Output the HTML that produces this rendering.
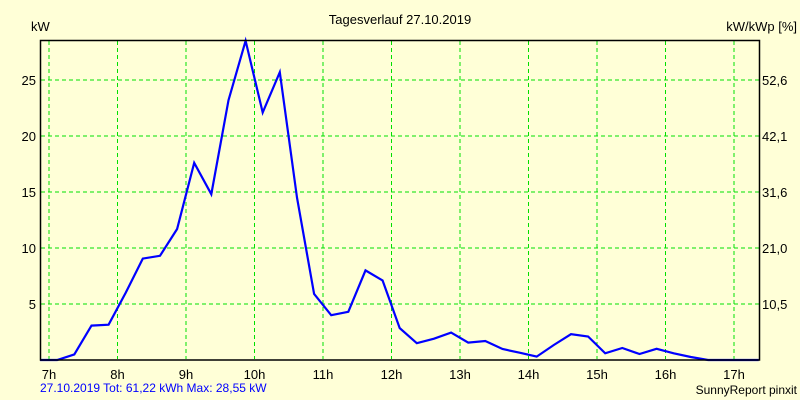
<!DOCTYPE html>
<html><head><meta charset="utf-8"><style>
html,body{margin:0;padding:0;background:#FFFFD7;}
svg{display:block;font-family:"Liberation Sans",sans-serif;}
</style></head><body>
<svg id="chart" width="800" height="400" viewBox="0 0 800 400">
<rect x="0" y="0" width="800" height="400" fill="#FFFFD7"/>
<text x="400" y="24" font-size="13" text-anchor="middle" fill="#000">Tagesverlauf 27.10.2019</text>
<text x="31" y="31" font-size="13" fill="#000">kW</text>
<text x="797" y="31" font-size="13" text-anchor="end" fill="#000">kW/kWp [%]</text>
<g id="grid"></g>
<g id="series"></g>
<rect x="40.5" y="40.5" width="719" height="319.5" fill="none" stroke="#000" stroke-width="1.5"/>
<g id="labels"></g>
<text x="40" y="392" font-size="12" fill="#0000FF">27.10.2019 Tot: 61,22 kWh Max: 28,55 kW</text>
<text x="797" y="394" font-size="12" text-anchor="end" fill="#000">SunnyReport pinxit</text>
</svg>
<script>
const hourTicks = [7,8,9,10,11,12,13,14,15,16,17];
const kwTicks = [5,10,15,20,25];
const pctTicks = ["10,5","21,0","31,6","42,1","52,6"];
const times = [6.87,7.12,7.37,7.62,7.87,8.12,8.37,8.62,8.87,9.12,9.37,9.62,9.87,10.12,10.37,10.62,10.87,11.12,11.37,11.62,11.87,12.12,12.37,12.62,12.87,13.12,13.37,13.62,13.87,14.12,14.37,14.62,14.87,15.12,15.37,15.62,15.87,16.12,16.37,16.62,16.87,17.12,17.36];
const power = [0,0,0.5,3.07,3.15,6.0,9.05,9.3,11.7,17.6,14.8,23.2,28.5,22.1,25.7,14.5,5.9,4.0,4.3,8.0,7.1,2.85,1.5,1.9,2.45,1.55,1.7,0.98,0.65,0.3,1.34,2.3,2.1,0.6,1.07,0.54,1.0,0.6,0.27,0,0,0,0];
const NS = "http://www.w3.org/2000/svg";
const xS = t => 49 + (t - 7) * 68.5;
const yS = v => 360 - v * 11.2;
function mk(tag, attrs, parent){const e=document.createElementNS(NS,tag);for(const k in attrs)e.setAttribute(k,attrs[k]);parent.appendChild(e);return e;}
const grid=document.getElementById('grid'), labels=document.getElementById('labels'), series=document.getElementById('series');
hourTicks.forEach(h=>{
  const l=mk('line',{x1:xS(h),x2:xS(h),y1:41,y2:359,stroke:'#00E000','stroke-width':1,'stroke-dasharray':'4,3'},grid);
  
  
  const t=mk('text',{x:xS(h),y:379,'font-size':13,'text-anchor':'middle',fill:'#000'},labels);
  t.textContent=h+'h';
  
  
});
kwTicks.forEach((v,i)=>{
  const l=mk('line',{x1:41,x2:759,y1:yS(v),y2:yS(v),stroke:'#00E000','stroke-width':1,'stroke-dasharray':'4,3'},grid);
  
  
  const t=mk('text',{x:36,y:yS(v)+5,'font-size':13,'text-anchor':'end',fill:'#000'},labels);
  t.textContent=v;
  
  
  const r=mk('text',{x:762,y:yS(v)+5,'font-size':13,fill:'#000'},labels);
  r.textContent=pctTicks[i];
  
  
});
const pts=times.map((t,i)=>xS(t).toFixed(1)+','+yS(power[i]).toFixed(1)).join(' ');
const pl=mk('polyline',{points:pts,fill:'none',stroke:'#0000FF','stroke-width':2.2,'stroke-linejoin':'miter'},series);


</script>
</body></html>
